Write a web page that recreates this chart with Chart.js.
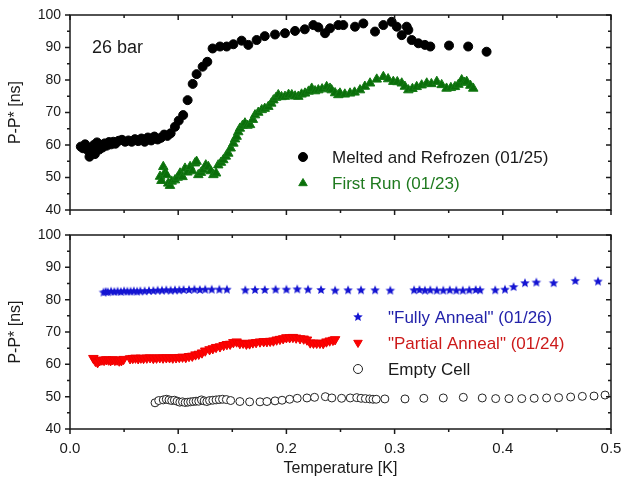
<!DOCTYPE html>
<html>
<head>
<meta charset="utf-8">
<script src="https://cdn.jsdelivr.net/npm/chart.js@4/dist/chart.umd.min.js"></script>
<style>
  body { margin: 0; background: #fff; width: 625px; height: 486px; position: relative; overflow: hidden; }
  canvas { position: absolute; left: 0; }
  #topChart { top: 0; }
  #bottomChart { top: 225px; }
</style>
</head>
<body>
<canvas id="topChart" width="625" height="225"></canvas>
<canvas id="bottomChart" width="625" height="261"></canvas>
<script>
// ---- data ----
const xTicks = [0, 0.1, 0.2, 0.3, 0.4, 0.5];
const yTicks = [40, 50, 60, 70, 80, 90, 100];

// top panel, 26 bar
const meltX = [0.010,0.012,0.014,0.016,0.018,0.019,0.020,0.021,0.022,0.023,
  0.024,0.025,0.027,0.028,0.030,0.032,0.034,0.036,0.038,0.040,
  0.042,0.045,0.048,0.051,0.054,0.057,0.060,0.063,0.066,0.069,
  0.072,0.075,0.078,0.081,0.084,0.087,0.090,0.093,0.097,0.1005,
  0.1046,0.1087,0.1134,0.117,0.1226,0.1269,0.1318,0.1386,0.1448,0.151,
  0.1586,0.1648,0.1725,0.180,0.1895,0.1987,0.208,0.217,0.2249,0.2295,
  0.2357,0.2403,0.248,0.2526,0.2634,0.2711,0.2819,0.2896,0.2973,0.302,
  0.3066,0.3112,0.3127,0.3158,0.322,0.328,0.333,0.3503,0.368,0.385];
const meltY = [59.5,59.0,60.2,58.5,56.4,57.5,59.0,58.0,60.0,57.2,
  59.5,60.8,58.6,60.0,59.2,60.5,59.8,60.9,60.2,61.0,
  60.4,61.3,61.6,61.0,61.4,61.0,61.8,61.2,62.0,61.0,
  62.3,61.4,62.6,61.7,62.2,63.2,62.8,63.6,65.6,67.5,
  69.2,73.8,78.8,81.8,84.1,85.6,89.7,90.3,90.3,91.0,
  92.1,90.8,92.3,93.5,94.0,94.4,95.1,95.6,96.9,96.2,
  94.4,95.9,96.9,96.9,96.4,97.4,94.9,96.9,97.9,96.4,
  93.8,96.4,95.4,92.3,91.3,90.8,90.3,90.6,90.3,88.7];

const runX = [0.0832,0.0845,0.0862,0.0877,0.0893,0.0908,0.0924,0.0940,0.0970,0.0995,
  0.1017,0.1040,0.1063,0.1085,0.1110,0.1130,0.1155,0.1170,0.1186,0.1210,
  0.1232,0.1255,0.1278,0.1300,0.1325,0.1350,0.1370,0.1395,0.1417,0.1440,
  0.1463,0.1485,0.1510,0.1525,0.1540,0.1555,0.1570,0.1595,0.1617,0.1640,
  0.1664,0.1690,0.1710,0.1740,0.1772,0.1800,0.1833,0.1860,0.1880,0.1905,
  0.1925,0.1955,0.1987,0.2020,0.2050,0.2080,0.2110,0.2140,0.2172,0.2205,
  0.2234,0.2265,0.2295,0.2330,0.2372,0.2403,0.2418,0.2450,0.2480,0.2495,
  0.2540,0.2588,0.2630,0.2680,0.2725,0.2773,0.2835,0.2896,0.2940,0.2988,
  0.3025,0.3066,0.3095,0.3127,0.3165,0.3204,0.3250,0.3297,0.3340,0.3390,
  0.3435,0.3480,0.3520,0.3558,0.3590,0.3620,0.3645,0.3666,0.3700,0.3727];
const runY = [50.3,49.0,53.3,51.5,50.8,48.2,47.5,48.8,49.2,50.0,
  51.3,50.2,52.8,51.6,53.3,52.0,54.4,54.9,50.8,51.5,
  52.3,53.8,53.3,52.0,50.8,51.3,53.8,54.6,55.4,56.5,
  57.4,59.0,60.5,61.8,62.6,64.0,65.1,66.0,66.7,66.0,
  66.2,67.8,69.2,70.0,70.8,71.2,71.8,72.8,73.8,74.6,
  75.4,74.8,74.9,75.5,75.4,75.0,74.9,75.6,75.9,76.5,
  77.4,76.6,76.9,77.2,77.9,77.4,76.9,76.0,75.4,75.9,
  75.6,75.9,76.2,76.9,78.0,79.0,80.2,81.0,80.3,79.5,
  79.4,79.0,78.0,76.9,77.3,77.9,78.4,79.0,78.8,79.5,
  78.5,77.4,77.6,77.9,78.6,80.0,79.2,79.5,78.3,77.4];

// bottom panel
const fullX = [0.031,0.033,0.035,0.038,0.041,0.044,0.047,0.050,0.053,0.056,
  0.059,0.062,0.065,0.069,0.073,0.077,0.081,0.085,0.089,0.093,
  0.097,0.101,0.105,0.110,0.115,0.120,0.125,0.131,0.138,0.145,
  0.162,0.171,0.180,0.190,0.200,0.210,0.220,0.232,0.245,0.257,
  0.269,0.282,0.296,0.318,0.323,0.328,0.333,0.339,0.345,0.351,
  0.357,0.363,0.369,0.375,0.379,0.393,0.402,0.410,0.4205,0.431,
  0.447,0.467,0.488];
const fullY = [82.2,82.4,82.3,82.5,82.4,82.5,82.4,82.6,82.5,82.5,
  82.6,82.5,82.6,82.6,82.7,82.7,82.8,82.8,82.9,82.8,
  82.9,82.9,83.0,83.0,83.1,83.0,83.1,83.1,83.1,83.1,
  82.9,83.0,83.0,83.1,83.1,83.2,83.1,83.0,82.8,82.9,
  82.9,82.9,82.8,82.9,83.0,82.8,82.9,82.8,82.8,82.9,
  82.8,82.8,82.9,83.0,82.9,82.9,83.1,83.9,85.1,85.3,
  85.1,85.8,85.6];

const partX = [0.0216,0.0235,0.0255,0.0275,0.0295,0.0315,0.0335,0.0355,0.0375,0.0395,
  0.0415,0.0435,0.0455,0.0475,0.0495,0.0555,0.0580,0.0605,0.0630,0.0655,
  0.0680,0.0710,0.0740,0.0770,0.0800,0.0830,0.0860,0.0890,0.0920,0.0950,
  0.0980,0.1010,0.1040,0.1070,0.1100,0.1130,0.1160,0.1190,0.1220,0.1250,
  0.1290,0.1320,0.1350,0.1386,0.1420,0.1450,0.1480,0.1510,0.1540,0.1570,
  0.1600,0.1630,0.1660,0.1690,0.1720,0.1756,0.1790,0.1820,0.1850,0.1880,
  0.1910,0.1940,0.1970,0.2000,0.2030,0.2060,0.2090,0.2126,0.2160,0.2190,
  0.2220,0.2250,0.2280,0.2310,0.2340,0.2370,0.2400,0.2430,0.2450];
const partY = [61.9,61.0,60.6,61.2,61.4,61.3,61.5,61.4,61.2,61.5,
  61.3,61.4,61.1,61.2,61.6,61.8,61.9,62.0,61.8,62.0,
  61.9,62.0,62.1,61.9,62.0,62.1,62.0,62.1,62.1,62.0,
  62.1,62.2,62.3,62.2,62.5,62.6,63.0,63.2,63.6,64.2,
  64.6,64.9,65.3,65.5,65.9,66.2,66.3,66.8,67.0,66.5,
  66.6,66.3,66.4,66.7,66.8,67.0,67.1,67.1,67.2,67.3,
  67.6,67.8,68.0,68.3,68.3,68.4,68.2,68.0,67.9,67.6,
  66.7,66.6,66.6,66.6,66.5,67.0,67.3,67.5,67.7];

const emptyX = [0.0786,0.0820,0.0862,0.0890,0.0915,0.0940,0.0965,0.0990,0.1015,0.1040,
  0.1065,0.1090,0.1115,0.1140,0.1165,0.1190,0.1215,0.1240,0.1265,0.1290,
  0.1320,0.1350,0.1380,0.1410,0.1445,0.1485,0.1570,0.1660,0.1756,0.1820,
  0.1895,0.1960,0.2030,0.2100,0.2190,0.2260,0.2360,0.2420,0.2510,0.2590,
  0.2650,0.2690,0.2730,0.2770,0.2800,0.2830,0.2910,0.3096,0.3270,0.3450,
  0.3635,0.3810,0.3934,0.4057,0.4175,0.4290,0.4405,0.4516,0.4627,0.4735,
  0.4843,0.4945];
const emptyY = [48.1,48.8,49.0,49.2,49.0,48.8,48.9,48.6,48.3,48.4,
  48.2,48.3,48.4,48.5,48.6,48.6,49.0,48.7,48.5,48.8,
  48.9,49.0,49.1,49.2,49.1,48.8,48.5,48.4,48.4,48.5,
  48.7,48.9,49.2,49.5,49.6,49.8,50.0,49.6,49.5,49.6,
  49.7,49.5,49.4,49.3,49.2,49.2,49.3,49.3,49.5,49.6,
  49.8,49.6,49.4,49.4,49.4,49.5,49.6,49.7,49.9,50.1,
  50.2,50.5];

const FONT = '"Liberation Sans", Arial, sans-serif';
const INK = '#1a1a1a';

function pts(xs, ys) {
  return xs.map((x, i) => ({ x: x, y: ys[i] }));
}

// filled five point star as a point image
function starImage(color, r) {
  const c = document.createElement('canvas');
  c.width = c.height = r * 2 + 2;
  const g = c.getContext('2d');
  g.fillStyle = color;
  g.beginPath();
  for (let i = 0; i < 10; i++) {
    const rr = i % 2 ? r * 0.45 : r;
    const a = -Math.PI / 2 + i * Math.PI / 5;
    g.lineTo(r + 1 + rr * Math.cos(a), r + 1 + rr * Math.sin(a));
  }
  g.closePath();
  g.fill();
  return c;
}
const blueStar = starImage('#1414d2', 5);

// frame + tick marks (left and bottom outward, top and right inward)
const framePlugin = {
  id: 'frame',
  afterDatasetsDraw(chart) {
    const { ctx, chartArea: a, scales } = chart;
    const x = scales.x, y = scales.y;
    ctx.save();
    ctx.strokeStyle = INK;
    ctx.lineWidth = 1.5;
    ctx.strokeRect(a.left, a.top, a.right - a.left, a.bottom - a.top);
    ctx.beginPath();
    for (let v = 40; v <= 100; v += 5) {
      const py = y.getPixelForValue(v);
      const len = v % 10 === 0 ? 5 : 3;
      ctx.moveTo(a.left - len, py); ctx.lineTo(a.left, py);
      ctx.moveTo(a.right - len, py); ctx.lineTo(a.right, py);
    }
    for (let i = 0; i <= 10; i++) {
      const px = x.getPixelForValue(i * 0.05);
      const len = i % 2 === 0 ? 5 : 3;
      ctx.moveTo(px, a.top); ctx.lineTo(px, a.top + len);
      ctx.moveTo(px, a.bottom); ctx.lineTo(px, a.bottom + len);
    }
    ctx.stroke();
    ctx.restore();
  }
};

function drawMarker(ctx, ds, x, y) {
  ctx.save();
  ctx.fillStyle = ds.backgroundColor;
  ctx.strokeStyle = ds.borderColor;
  ctx.lineWidth = ds.borderWidth || 1;
  const r = 4.5;
  if (ds.pointStyle === 'circle') {
    ctx.beginPath(); ctx.arc(x, y, r, 0, Math.PI * 2); ctx.fill(); ctx.stroke();
  } else if (ds.pointStyle === 'triangle') {
    const s = ds.pointRotation === 180 ? -1 : 1;
    ctx.beginPath();
    ctx.moveTo(x, y - s * r);
    ctx.lineTo(x + r * 0.95, y + s * r * 0.6);
    ctx.lineTo(x - r * 0.95, y + s * r * 0.6);
    ctx.closePath(); ctx.fill(); ctx.stroke();
  } else {
    ctx.drawImage(ds.pointStyle, x - ds.pointStyle.width / 2, y - ds.pointStyle.height / 2);
  }
  ctx.restore();
}

// legend drawn inside the plot area
const boxLegend = {
  id: 'boxLegend',
  afterDraw(chart, args, opts) {
    const ctx = chart.ctx;
    ctx.save();
    ctx.textBaseline = 'middle';
    ctx.textAlign = 'left';
    ctx.font = '17px ' + FONT;
    (opts.items || []).forEach(it => {
      const ds = chart.data.datasets[it.index];
      drawMarker(ctx, ds, it.x, it.y);
      ctx.fillStyle = it.color;
      ctx.fillText(ds.label, it.textX, it.y + 1);
    });
    if (opts.note) {
      ctx.fillStyle = INK;
      ctx.font = '18px ' + FONT;
      ctx.fillText(opts.note.text, opts.note.x, opts.note.y);
    }
    ctx.restore();
  }
};

function yAxis() {
  return {
    type: 'linear',
    min: yTicks[0], max: yTicks[yTicks.length - 1],
    afterFit: s => { s.width = 70; s.paddingTop = 0; s.paddingBottom = 0; },
    afterBuildTicks: s => { s.ticks = yTicks.map(v => ({ value: v })); },
    grid: { display: false, drawTicks: false },
    border: { display: false },
    ticks: { padding: 9, color: INK, font: { size: 14, family: FONT } },
    title: { display: true, text: 'P-P* [ns]', color: INK,
             font: { size: 16, family: FONT }, padding: { top: 6, bottom: 0 } }
  };
}

function xAxis(show) {
  const ax = {
    type: 'linear',
    display: show,
    min: 0, max: 0.5,
    afterBuildTicks: s => { s.ticks = xTicks.map(v => ({ value: v })); },
    grid: { display: false, drawTicks: false },
    border: { display: false },
    ticks: { padding: 11, color: INK, font: { size: 15, family: FONT },
             callback: v => Number(v).toFixed(1) },
    title: { display: show, text: 'Temperature [K]', color: INK,
             font: { size: 16, family: FONT }, padding: { top: 0, bottom: 8 } }
  };
  if (show) {
    ax.afterFit = s => { s.height = 57; s.paddingLeft = 0; s.paddingRight = 0; };
  }
  return ax;
}

new Chart(document.getElementById('topChart'), {
  type: 'scatter',
  data: {
    datasets: [
      { label: 'Melted and Refrozen (01/25)', data: pts(meltX, meltY),
        pointStyle: 'circle', pointRadius: 4.5, backgroundColor: '#000', borderColor: '#000', borderWidth: 1 },
      { label: 'First Run (01/23)', data: pts(runX, runY),
        pointStyle: 'triangle', pointRadius: 5.5, backgroundColor: '#0a6e0a', borderColor: '#157a15', borderWidth: 1 }
    ]
  },
  options: {
    responsive: false,
    animation: false,
    layout: { padding: { top: 15, right: 14, bottom: 15, left: 0 } },
    scales: { x: xAxis(false), y: yAxis() },
    plugins: {
      legend: { display: false },
      tooltip: { enabled: false },
      boxLegend: {
        items: [
          { index: 0, x: 303, y: 157, textX: 332, color: INK },
          { index: 1, x: 303, y: 183, textX: 332, color: '#1f7a1f' }
        ],
        note: { text: '26 bar', x: 92, y: 48 }
      }
    }
  },
  plugins: [framePlugin, boxLegend]
});

new Chart(document.getElementById('bottomChart'), {
  type: 'scatter',
  data: {
    datasets: [
      { label: '"Fully Anneal" (01/26)', data: pts(fullX, fullY),
        pointStyle: blueStar, backgroundColor: '#1414d2', borderColor: '#1414d2' },
      { label: '"Partial Anneal" (01/24)', data: pts(partX, partY),
        pointStyle: 'triangle', pointRotation: 180, pointRadius: 5.5, backgroundColor: '#ff0000', borderColor: '#ee0000', borderWidth: 1 },
      { label: 'Empty Cell', data: pts(emptyX, emptyY),
        pointStyle: 'circle', pointRadius: 4, backgroundColor: '#fff', borderColor: '#222', borderWidth: 1 }
    ]
  },
  options: {
    responsive: false,
    animation: false,
    layout: { padding: { top: 10, right: 14, bottom: 0, left: 0 } },
    scales: { x: xAxis(true), y: yAxis() },
    plugins: {
      legend: { display: false },
      tooltip: { enabled: false },
      boxLegend: {
        items: [
          { index: 0, x: 358, y: 92, textX: 388, color: '#2222aa' },
          { index: 1, x: 358, y: 118, textX: 388, color: '#cc1a1a' },
          { index: 2, x: 358, y: 144, textX: 388, color: INK }
        ]
      }
    }
  },
  plugins: [framePlugin, boxLegend]
});
</script>
</body>
</html>
